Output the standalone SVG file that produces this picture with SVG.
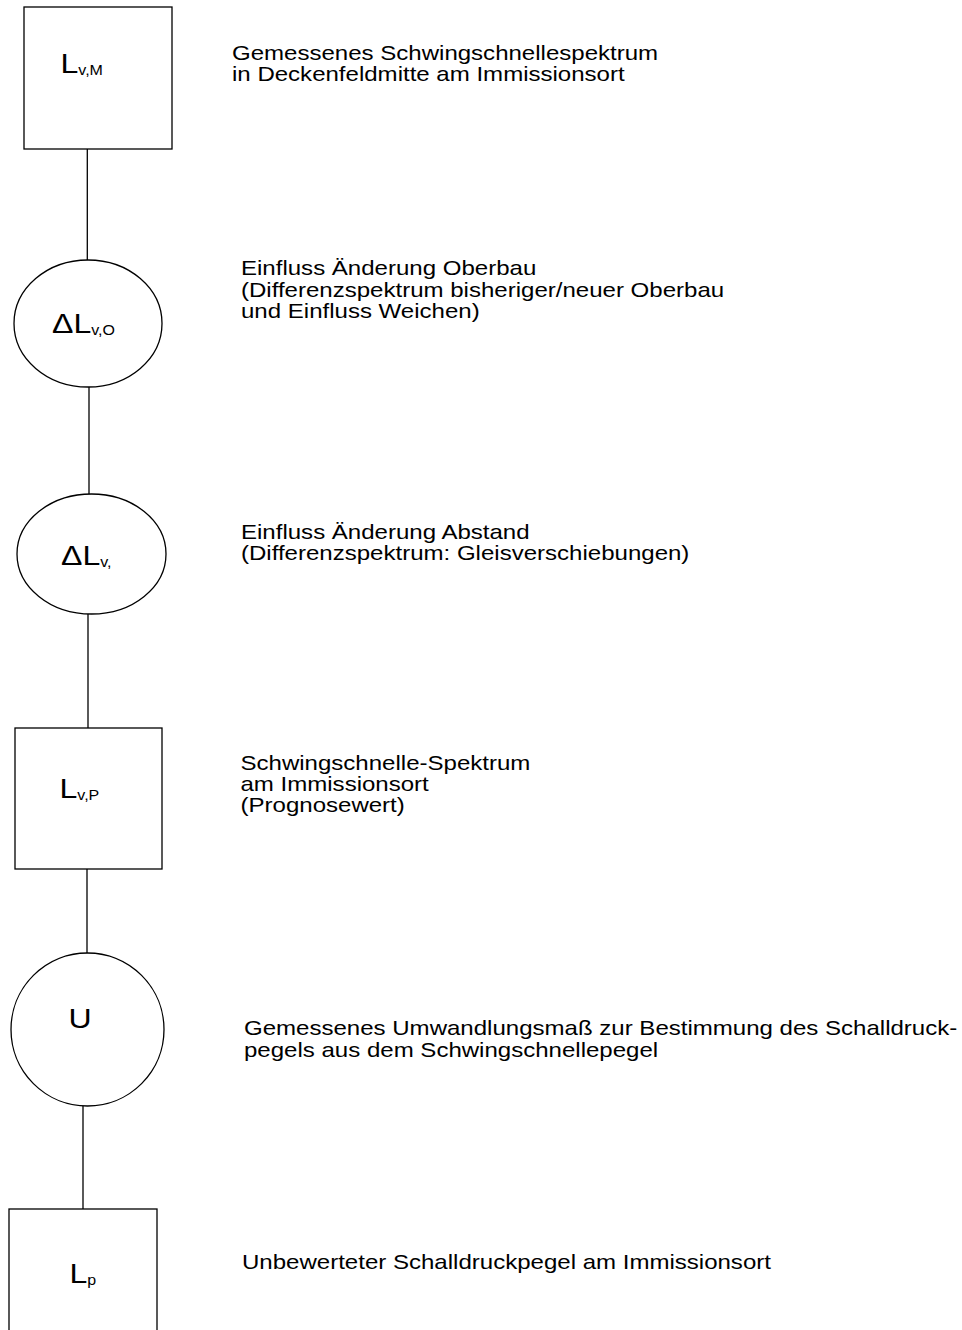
<svg xmlns="http://www.w3.org/2000/svg" width="962" height="1330" viewBox="0 0 962 1330">
<style>
  .shape { fill: #ffffff; stroke: #000000; stroke-width: 1.3; }
  .conn { stroke: #000000; stroke-width: 1.3; fill: none; }
  .lbl { font-family: "Liberation Sans", Arial, sans-serif; font-size: 21px; fill: #000000; }
  .nl { font-family: "Liberation Sans", Arial, sans-serif; font-size: 28px; fill: #000000; }
  .sub { font-size: 14px; }
</style>
<rect width="962" height="1330" fill="#ffffff"/>
<g id="connectors">
  <line class="conn" x1="87.3" y1="149" x2="87.3" y2="260"/>
  <line class="conn" x1="89" y1="387" x2="89" y2="494"/>
  <line class="conn" x1="88" y1="614" x2="88" y2="728"/>
  <line class="conn" x1="87" y1="869" x2="87" y2="953"/>
  <line class="conn" x1="83" y1="1106" x2="83" y2="1209"/>
</g>
<g id="node-LvM">
  <rect class="shape" x="24" y="7" width="148" height="142"/>
  <text class="nl" transform="translate(60.5 73) scale(1.145 1)">L<tspan class="sub" dy="2">v,M</tspan></text>
</g>
<g id="node-dLvO">
  <ellipse class="shape" cx="88" cy="323.5" rx="74" ry="63.5"/>
  <text class="nl" transform="translate(52 333) scale(1.145 1)">ΔL<tspan class="sub" dy="2">v,O</tspan></text>
</g>
<g id="node-dLv">
  <ellipse class="shape" cx="91.5" cy="554" rx="74.5" ry="60"/>
  <text class="nl" transform="translate(61 565) scale(1.145 1)">ΔL<tspan class="sub" dy="2">v,</tspan></text>
</g>
<g id="node-LvP">
  <rect class="shape" x="15" y="728" width="147" height="141"/>
  <text class="nl" transform="translate(59.5 798) scale(1.145 1)">L<tspan class="sub" dy="2">v,P</tspan></text>
</g>
<g id="node-U">
  <ellipse class="shape" cx="87.5" cy="1029.5" rx="76.5" ry="76.5"/>
  <text class="nl" transform="translate(68.5 1028) scale(1.145 1)">U</text>
</g>
<g id="node-Lp">
  <rect class="shape" x="9" y="1209" width="148" height="150"/>
  <text class="nl" transform="translate(69.5 1283) scale(1.145 1)">L<tspan class="sub" dy="2">p</tspan></text>
</g>
<g id="labels">
  <text class="lbl" transform="translate(232 59.5) scale(1.145 1)">Gemessenes Schwingschnellespektrum</text>
  <text class="lbl" transform="translate(232 80.5) scale(1.145 1)">in Deckenfeldmitte am Immissionsort</text>
  <text class="lbl" transform="translate(241 275) scale(1.145 1)">Einfluss Änderung Oberbau</text>
  <text class="lbl" transform="translate(241 296.5) scale(1.145 1)">(Differenzspektrum bisheriger/neuer Oberbau</text>
  <text class="lbl" transform="translate(241 318) scale(1.145 1)">und Einfluss Weichen)</text>
  <text class="lbl" transform="translate(241 538.5) scale(1.145 1)">Einfluss Änderung Abstand</text>
  <text class="lbl" transform="translate(241 559.5) scale(1.145 1)">(Differenzspektrum: Gleisverschiebungen)</text>
  <text class="lbl" transform="translate(240.5 770) scale(1.145 1)">Schwingschnelle-Spektrum</text>
  <text class="lbl" transform="translate(240.5 791) scale(1.145 1)">am Immissionsort</text>
  <text class="lbl" transform="translate(240.5 812) scale(1.145 1)">(Prognosewert)</text>
  <text class="lbl" transform="translate(244 1035) scale(1.145 1)">Gemessenes Umwandlungsmaß zur Bestimmung des Schalldruck-</text>
  <text class="lbl" transform="translate(244 1057) scale(1.145 1)">pegels aus dem Schwingschnellepegel</text>
  <text class="lbl" transform="translate(242 1269) scale(1.145 1)">Unbewerteter Schalldruckpegel am Immissionsort</text>
</g>
</svg>
